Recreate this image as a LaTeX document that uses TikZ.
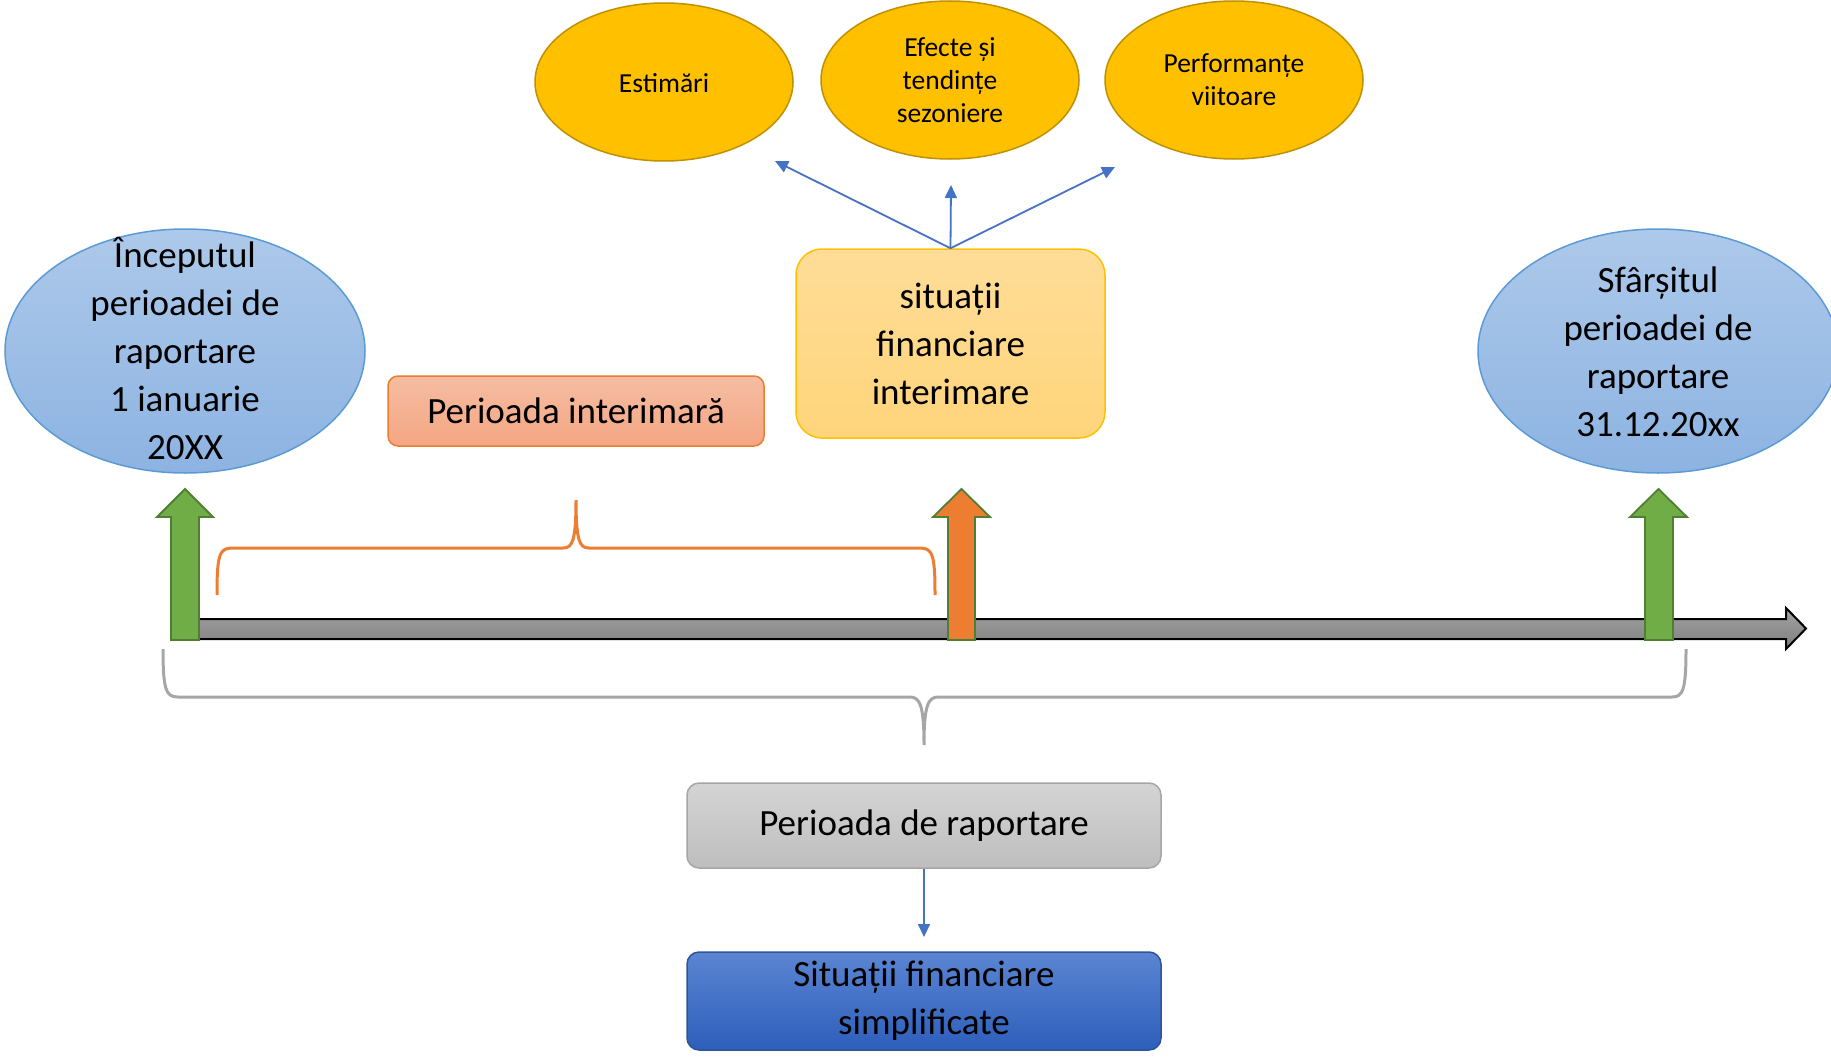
\documentclass[tikz,border=0pt]{standalone}
\usepackage{fontspec}
\setmainfont{Carlito}
\usetikzlibrary{shapes.geometric,arrows.meta}
\definecolor{ellblueT}{HTML}{ADC9EA}
\definecolor{ellblueB}{HTML}{8DB3E2}
\definecolor{ellblueD}{HTML}{5B9BD5}
\definecolor{goldF}{HTML}{FFC000}
\definecolor{goldD}{HTML}{BF9000}
\definecolor{grnF}{HTML}{70AD47}
\definecolor{grnD}{HTML}{507E32}
\definecolor{orF}{HTML}{ED7D31}
\definecolor{salT}{HTML}{F5BDA2}
\definecolor{salB}{HTML}{F4A683}
\definecolor{ylT}{HTML}{FFDD98}
\definecolor{ylB}{HTML}{FFD57B}
\definecolor{gyT}{HTML}{D4D4D4}
\definecolor{gyB}{HTML}{BEBEBE}
\definecolor{gyD}{HTML}{A6A6A6}
\definecolor{bxT}{HTML}{5B85D2}
\definecolor{bxB}{HTML}{2D5EBB}
\definecolor{bxD}{HTML}{2F5597}
\definecolor{connB}{HTML}{4472C4}
\definecolor{barT}{HTML}{A3A3A3}
\definecolor{barB}{HTML}{7E7E7E}
\begin{document}
\begin{tikzpicture}[x=1pt,y=-1pt,
  bigtxt/.style={font=\fontsize{37pt}{48pt}\selectfont, align=center, inner sep=0pt, text=black},
  smalltxt/.style={font=\fontsize{27.5pt}{33pt}\selectfont, align=center, inner sep=0pt, text=black},
  blueell/.style={ellipse, draw=ellblueD, line width=1.5pt, top color=ellblueT, bottom color=ellblueB,
     minimum width=360pt, minimum height=244pt, inner sep=0pt},
  goldell/.style={ellipse, draw=goldD, line width=1.5pt, fill=goldF,
     minimum width=258pt, minimum height=158pt, inner sep=0pt},
  interimbox/.style={rounded corners=10pt, draw=orF, line width=1.5pt, top color=salT, bottom color=salB,
     minimum width=376pt, minimum height=70pt, bigtxt},
  sitbox/.style={rounded corners=26pt, draw=goldF, line width=1.5pt, top color=ylT, bottom color=ylB,
     minimum width=309pt, minimum height=189pt, bigtxt},
  rapbox/.style={rounded corners=12pt, draw=gyD, line width=1.5pt, top color=gyT, bottom color=gyB,
     minimum width=474pt, minimum height=85pt, bigtxt},
  simpbox/.style={rounded corners=12pt, draw=bxD, line width=1.5pt, top color=bxT, bottom color=bxB,
     minimum width=474pt, minimum height=98pt, bigtxt},
  conn/.style={draw=connB, line width=1.8pt, -{Triangle[length=13pt,width=12pt]}},
  blockarrow/.style={line width=1.8pt, draw=grnD},
  obrace/.style={draw=orF, line width=3pt},
  gbrace/.style={draw=gyD, line width=3pt},
]
\useasboundingbox (0,0) rectangle (1831,1057);

% timeline bar
\path[draw=black, line width=2pt, top color=barT, bottom color=barB]
  (185,619) -- (1786,619) -- (1786,608) -- (1806,628.5) -- (1786,649) -- (1786,639) -- (185,639) -- cycle;

% block arrows
\path[blockarrow, fill=grnF] (171,640) -- (171,517) -- (157,517) -- (185,489) -- (213,517) -- (199,517) -- (199,640) -- cycle;
\path[blockarrow, fill=orF] (948,640) -- (948,517) -- (933,517) -- (961.5,489) -- (990,517) -- (975,517) -- (975,640) -- cycle;
\path[blockarrow, fill=grnF] (1645,640) -- (1645,517) -- (1630,517) -- (1658.5,489) -- (1687,517) -- (1673,517) -- (1673,640) -- cycle;

% braces
\path[obrace] (217,595) .. controls (217,556) and (219,548) .. (232,548) -- (563,548)
  .. controls (572,548) and (576,542) .. (576,500)
  .. controls (576,542) and (580,548) .. (589,548) -- (920,548)
  .. controls (933,548) and (935,556) .. (935,595);
\path[gbrace] (163,649) .. controls (163,690) and (166,697) .. (178,697) -- (910,697)
  .. controls (920,697) and (924,706) .. (924,745)
  .. controls (924,706) and (928,697) .. (938,697) -- (1672,697)
  .. controls (1683,697) and (1686,690) .. (1686,649);

% blue ellipses
\node[blueell] (start) at (185,351) {};
\node[bigtxt] (starttxt) at (185,348) {Începutul\\perioadei de\\raportare\\1 ianuarie\\20XX};
\node[blueell] (end) at (1658,351) {};
\node[bigtxt] (endtxt) at (1658,352) {Sfârșitul\\perioadei de\\raportare\\31.12.20xx};

% gold ellipses
\node[goldell] (est) at (664,82) {};
\node[smalltxt] (esttxt) at (664,83) {Estimări};
\node[goldell] (efe) at (950,80) {};
\node[smalltxt] (efetxt) at (950,80) {Efecte și\\tendințe\\sezoniere};
\node[goldell] (perf) at (1234,80) {};
\node[smalltxt] (perftxt) at (1234,80) {Performanțe\\viitoare};

% boxes
\node[interimbox] (interim) at (576,411) {Perioada interimară};
\node[sitbox] (sit) at (950.5,343.5) {situații\\financiare\\interimare};
\node[rapbox] (rap) at (924,825.5) {Perioada de raportare};
\node[simpbox] (simp) at (924,1001) {Situații financiare\\simplificate};

% connectors
\coordinate (tipL) at (775,161);
\coordinate (tipM) at (951,185);
\coordinate (tipR) at (1115,167);
\coordinate (tipD) at (924,937);
\draw[conn] (sit.north) -- (tipL);
\draw[conn] (sit.north) -- (tipM);
\draw[conn] (sit.north) -- (tipR);
\draw[conn] (rap.south) -- (tipD);
\end{tikzpicture}
\end{document}
